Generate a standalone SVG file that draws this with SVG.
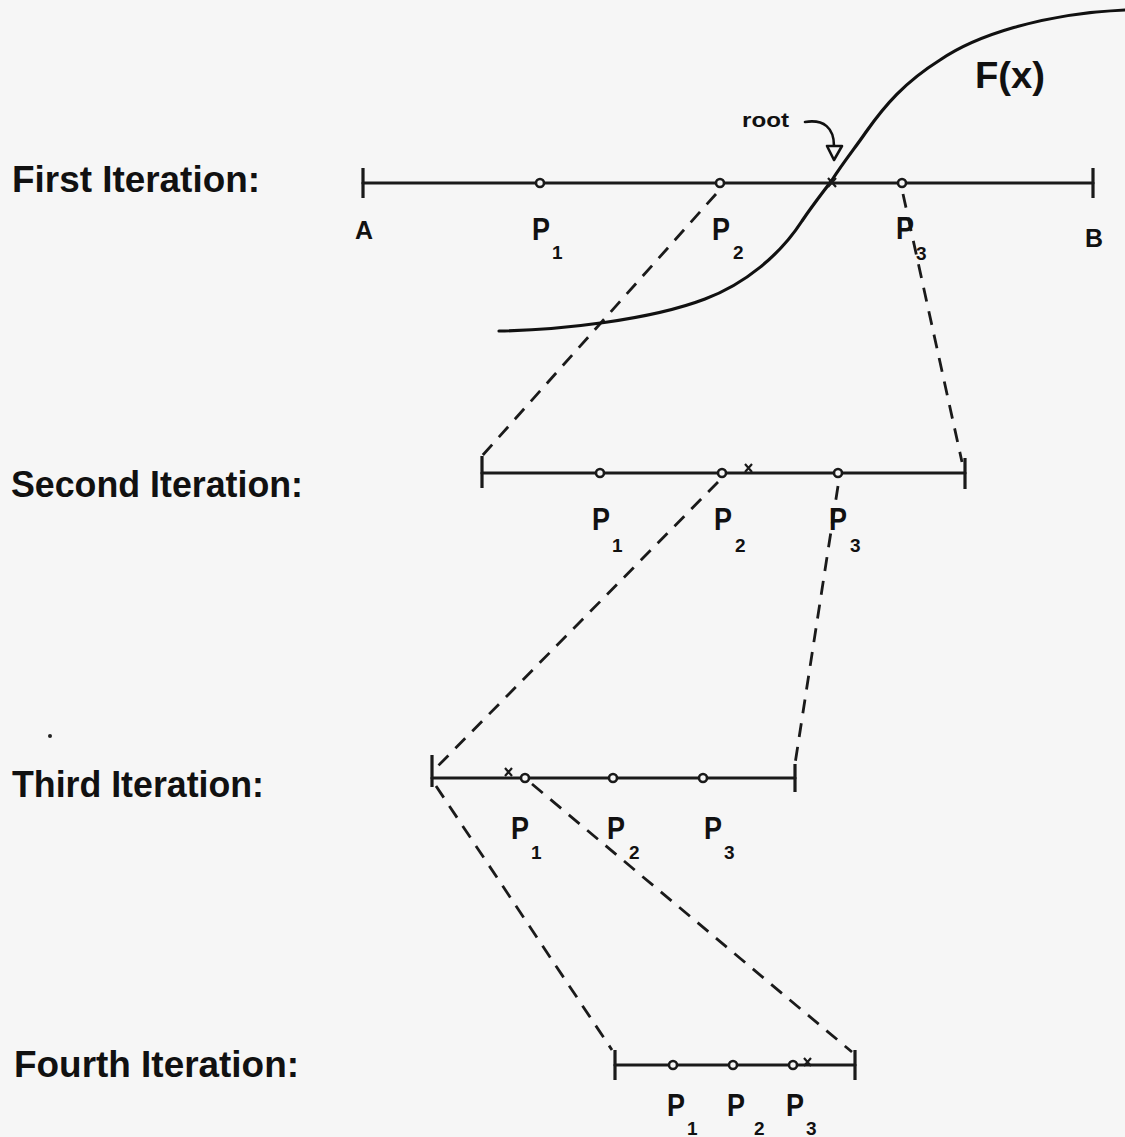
<svg xmlns="http://www.w3.org/2000/svg" width="1125" height="1137" viewBox="0 0 1125 1137">
<style>
.bg{fill:#f6f6f6}
.axis{stroke:#1a1a1a;stroke-width:3.2;fill:none;stroke-linecap:round}
.tick{stroke:#1a1a1a;stroke-width:3.2;fill:none}
.dot{fill:#f6f6f6;stroke:#1a1a1a;stroke-width:2.6}
.xm{stroke:#1a1a1a;stroke-width:2.2;fill:none}
.dash{stroke:#1a1a1a;stroke-width:2.8;fill:none;stroke-dasharray:14 10}
.curve{stroke:#111;stroke-width:3.2;fill:none;stroke-linejoin:round;stroke-linecap:round}
.iter{font-family:"Liberation Sans",Arial,sans-serif;font-weight:bold;font-size:36px;fill:#111}
.p{font-family:"Liberation Sans",Arial,sans-serif;font-weight:bold;font-size:32px;fill:#111}
.sub{font-family:"Liberation Sans",Arial,sans-serif;font-weight:bold;font-size:19px;fill:#111}
.lbl{font-family:"Liberation Sans",Arial,sans-serif;font-weight:bold;font-size:26px;fill:#111}
.root{font-family:"Liberation Sans",Arial,sans-serif;font-weight:bold;font-size:20px;fill:#111}
.fx{font-family:"Liberation Sans",Arial,sans-serif;font-weight:bold;font-size:36px;fill:#111}
</style>
<rect class="bg" x="0" y="0" width="1125" height="1137"/>
<circle cx="50" cy="736" r="2" fill="#222"/>

<g id="connectors">
<line class="dash" x1="716" y1="194" x2="482" y2="456"/>
<line class="dash" x1="903" y1="194" x2="962" y2="462"/>
<line class="dash" x1="718" y1="482" x2="434" y2="770"/>
<line class="dash" x1="838" y1="486" x2="795" y2="764"/>
<line class="dash" x1="436" y1="786" x2="612" y2="1050"/>
<line class="dash" x1="532" y1="784" x2="852" y2="1052"/>
</g>

<g id="curve-Fx">
<path class="curve" d="M499,331 C560,330 650,320 705,299 C745,284 780,255 802,221 C815,202 824,191 832,180 C845,160 855,148 866,132 C885,105 905,82 940,60 C975,36 1040,14 1125,10"/>
<text class="fx" x="975" y="88" textLength="70" lengthAdjust="spacingAndGlyphs">F(x)</text>
</g>

<g id="root-label">
<text class="root" x="742" y="127" textLength="47" lengthAdjust="spacingAndGlyphs">root</text>
<path class="curve" style="stroke-width:2.6" d="M805,122 C824,119 834,128 834,146"/>
<polygon points="827,146 842,146 834,160" fill="#f6f6f6" stroke="#111" stroke-width="2.6" stroke-linejoin="round"/>
</g>

<g id="first-iteration">
<text class="iter" x="12" y="192" textLength="248" lengthAdjust="spacingAndGlyphs">First Iteration:</text>
<line class="axis" x1="363" y1="183" x2="1093" y2="183"/>
<line class="tick" x1="363" y1="168" x2="363" y2="198"/>
<line class="tick" x1="1093" y1="168" x2="1093" y2="198"/>
<path class="xm" d="M828,178 L836,187 M836,178 L828,187"/>
<circle class="dot" cx="540" cy="183" r="4"/>
<circle class="dot" cx="720" cy="183" r="4"/>
<circle class="dot" cx="902" cy="183" r="4"/>
<text class="lbl" x="355" y="239" textLength="18" lengthAdjust="spacingAndGlyphs">A</text>
<text class="lbl" x="1085" y="247" textLength="18" lengthAdjust="spacingAndGlyphs">B</text>
<text class="p" x="532" y="240" textLength="18" lengthAdjust="spacingAndGlyphs">P</text>
<text class="sub" x="552" y="259">1</text>
<text class="p" x="712" y="240" textLength="18" lengthAdjust="spacingAndGlyphs">P</text>
<text class="sub" x="733" y="259">2</text>
<text class="p" x="896" y="239" textLength="18" lengthAdjust="spacingAndGlyphs">P</text>
<text class="sub" x="916" y="260">3</text>
</g>

<g id="second-iteration">
<text class="iter" x="11" y="497" textLength="292" lengthAdjust="spacingAndGlyphs">Second Iteration:</text>
<line class="axis" x1="482" y1="473" x2="965" y2="473"/>
<line class="tick" x1="482" y1="456" x2="482" y2="488"/>
<line class="tick" x1="965" y1="458" x2="965" y2="489"/>
<path class="xm" d="M745,464 L752,472 M752,464 L745,472"/>
<circle class="dot" cx="600" cy="473" r="4"/>
<circle class="dot" cx="722" cy="473" r="4"/>
<circle class="dot" cx="838" cy="473" r="4"/>
<text class="p" x="592" y="530" textLength="18" lengthAdjust="spacingAndGlyphs">P</text>
<text class="sub" x="612" y="552">1</text>
<text class="p" x="714" y="530" textLength="18" lengthAdjust="spacingAndGlyphs">P</text>
<text class="sub" x="735" y="552">2</text>
<text class="p" x="829" y="530" textLength="18" lengthAdjust="spacingAndGlyphs">P</text>
<text class="sub" x="850" y="552">3</text>
</g>

<g id="third-iteration">
<text class="iter" x="12" y="797" textLength="252" lengthAdjust="spacingAndGlyphs">Third Iteration:</text>
<line class="axis" x1="432" y1="778" x2="795" y2="778"/>
<line class="tick" x1="432" y1="755" x2="432" y2="787"/>
<line class="tick" x1="795" y1="764" x2="795" y2="792"/>
<path class="xm" d="M505,768 L512,776 M512,768 L505,776"/>
<circle class="dot" cx="525" cy="778" r="4"/>
<circle class="dot" cx="613" cy="778" r="4"/>
<circle class="dot" cx="703" cy="778" r="4"/>
<text class="p" x="511" y="839" textLength="18" lengthAdjust="spacingAndGlyphs">P</text>
<text class="sub" x="531" y="859">1</text>
<text class="p" x="607" y="839" textLength="18" lengthAdjust="spacingAndGlyphs">P</text>
<text class="sub" x="629" y="859">2</text>
<text class="p" x="704" y="839" textLength="18" lengthAdjust="spacingAndGlyphs">P</text>
<text class="sub" x="724" y="859">3</text>
</g>

<g id="fourth-iteration">
<text class="iter" x="14" y="1077" textLength="285" lengthAdjust="spacingAndGlyphs">Fourth Iteration:</text>
<line class="axis" x1="615" y1="1065" x2="855" y2="1065"/>
<line class="tick" x1="615" y1="1050" x2="615" y2="1080"/>
<line class="tick" x1="855" y1="1050" x2="855" y2="1080"/>
<path class="xm" d="M804,1058 L811,1066 M811,1058 L804,1066"/>
<circle class="dot" cx="673" cy="1065" r="4"/>
<circle class="dot" cx="733" cy="1065" r="4"/>
<circle class="dot" cx="793" cy="1065" r="4"/>
<text class="p" x="667" y="1116" textLength="18" lengthAdjust="spacingAndGlyphs">P</text>
<text class="sub" x="687" y="1135">1</text>
<text class="p" x="727" y="1116" textLength="18" lengthAdjust="spacingAndGlyphs">P</text>
<text class="sub" x="754" y="1135">2</text>
<text class="p" x="786" y="1116" textLength="18" lengthAdjust="spacingAndGlyphs">P</text>
<text class="sub" x="806" y="1135">3</text>
</g>
</svg>
